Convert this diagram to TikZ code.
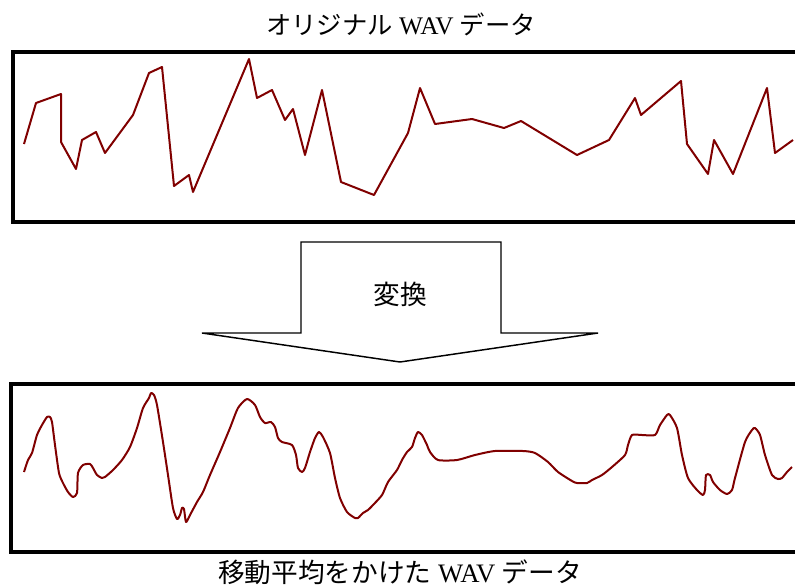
\documentclass[tikz,border=0pt]{standalone}
\usepackage{fontspec}
\setmainfont{Liberation Serif}
\newfontfamily\cjk{Noto Sans CJK JP}
\definecolor{wave}{RGB}{128,0,0}
\begin{document}
\begin{tikzpicture}[x=0.75pt,y=-0.75pt,
  panel/.style={draw=black,line width=3pt},
  wavline/.style={draw=wave,line width=1.5pt,line join=round},
  title/.style={font=\fontsize{19pt}{22pt}\selectfont,inner sep=0pt},
  bigarrow/.style={draw=black,line width=1.1pt,fill=white,line join=miter}]
\useasboundingbox (0,0) rectangle (795,586);
\clip (0,0) rectangle (795,586);
% titles
\node[title] (t1) at (401,24) {{\cjk オリジナル} WAV {\cjk データ}};
\node[title,font=\fontsize{20pt}{24pt}\selectfont] (t2) at (400,572) {{\cjk 移動平均をかけた} WAV {\cjk データ}};
% panels
\node[panel,minimum width=800*0.75pt,minimum height=170*0.75pt,anchor=north west,inner sep=0pt] (p1) at (11,50) {};
\node[panel,minimum width=800*0.75pt,minimum height=168*0.75pt,anchor=north west,inner sep=0pt] (p2) at (9,382) {};
% original waveform
\draw[wavline] (24,144) -- (36,103) -- (61,94) -- (61,142) -- (76,169) -- (82,140) -- (96,132) -- (105,153) -- (133,115) -- (149,73) -- (162,67) -- (174,186) -- (189,175) -- (193,192) -- (249,59) -- (257,98) -- (272,90) -- (285,120) -- (293,109) -- (305,155) -- (322,90) -- (341,182) -- (374,195) -- (408,133) -- (420,88) -- (435,124) -- (472,119) -- (504,128) -- (521,121) -- (577,155) -- (609,140) -- (635,98) -- (641,115) -- (681,81) -- (687,144) -- (708,174) -- (714,140) -- (733,174) -- (767,88) -- (775,153) -- (793,140);
% smoothed waveform
\draw[wavline] plot[smooth,tension=0.4] coordinates {(24,472) (28,460) (32,453) (37,435) (42,425) (47,417) (50,417) (52,422) (55,445) (59,473) (63,483) (68,492) (73,497) (77,493) (78,473) (83,465) (90,464) (93,468) (97,475) (102,478) (105,477) (113,470) (122,460) (130,447) (137,428) (143,408) (149,398) (151,393) (154,395) (157,405) (163,442) (168,475) (173,508) (177,519) (180,515) (182,508) (184,509) (186,522) (190,515) (197,502) (203,492) (210,475) (220,452) (230,428) (238,408) (247,399) (255,405) (260,417) (265,423) (271,422) (275,427) (278,438) (282,442) (292,445) (296,455) (298,468) (302,472) (305,468) (310,452) (315,438) (319,432) (323,437) (330,453) (335,478) (340,498) (347,512) (355,518) (358,518) (363,513) (368,510) (373,505) (382,495) (388,482) (397,470) (402,460) (407,452) (412,447) (415,438) (418,432) (422,435) (427,445) (430,452) (438,460) (457,460) (475,455) (495,451) (523,451) (535,453) (548,462) (558,472) (572,481) (577,483) (587,483) (592,480) (602,475) (612,467) (625,455) (628,445) (632,435) (642,435) (655,435) (660,425) (667,415) (670,415) (677,428) (682,455) (688,478) (697,490) (703,495) (705,490) (706,475) (710,475) (713,482) (720,490) (727,494) (732,490) (735,478) (745,442) (752,430) (755,428) (760,435) (765,455) (772,475) (778,479) (782,478) (787,472) (792,467)};
% transform arrow
\draw[bigarrow] (301,242) -- (501,242) -- (501,333) -- (598,333) -- (400,362) -- (202,333) -- (301,333) -- cycle;
\node[font=\fontsize{20pt}{24pt}\selectfont\cjk,inner sep=0pt] (lbl) at (400,294) {変換};
\coordinate (tip) at (400,362);
\end{tikzpicture}
\end{document}
